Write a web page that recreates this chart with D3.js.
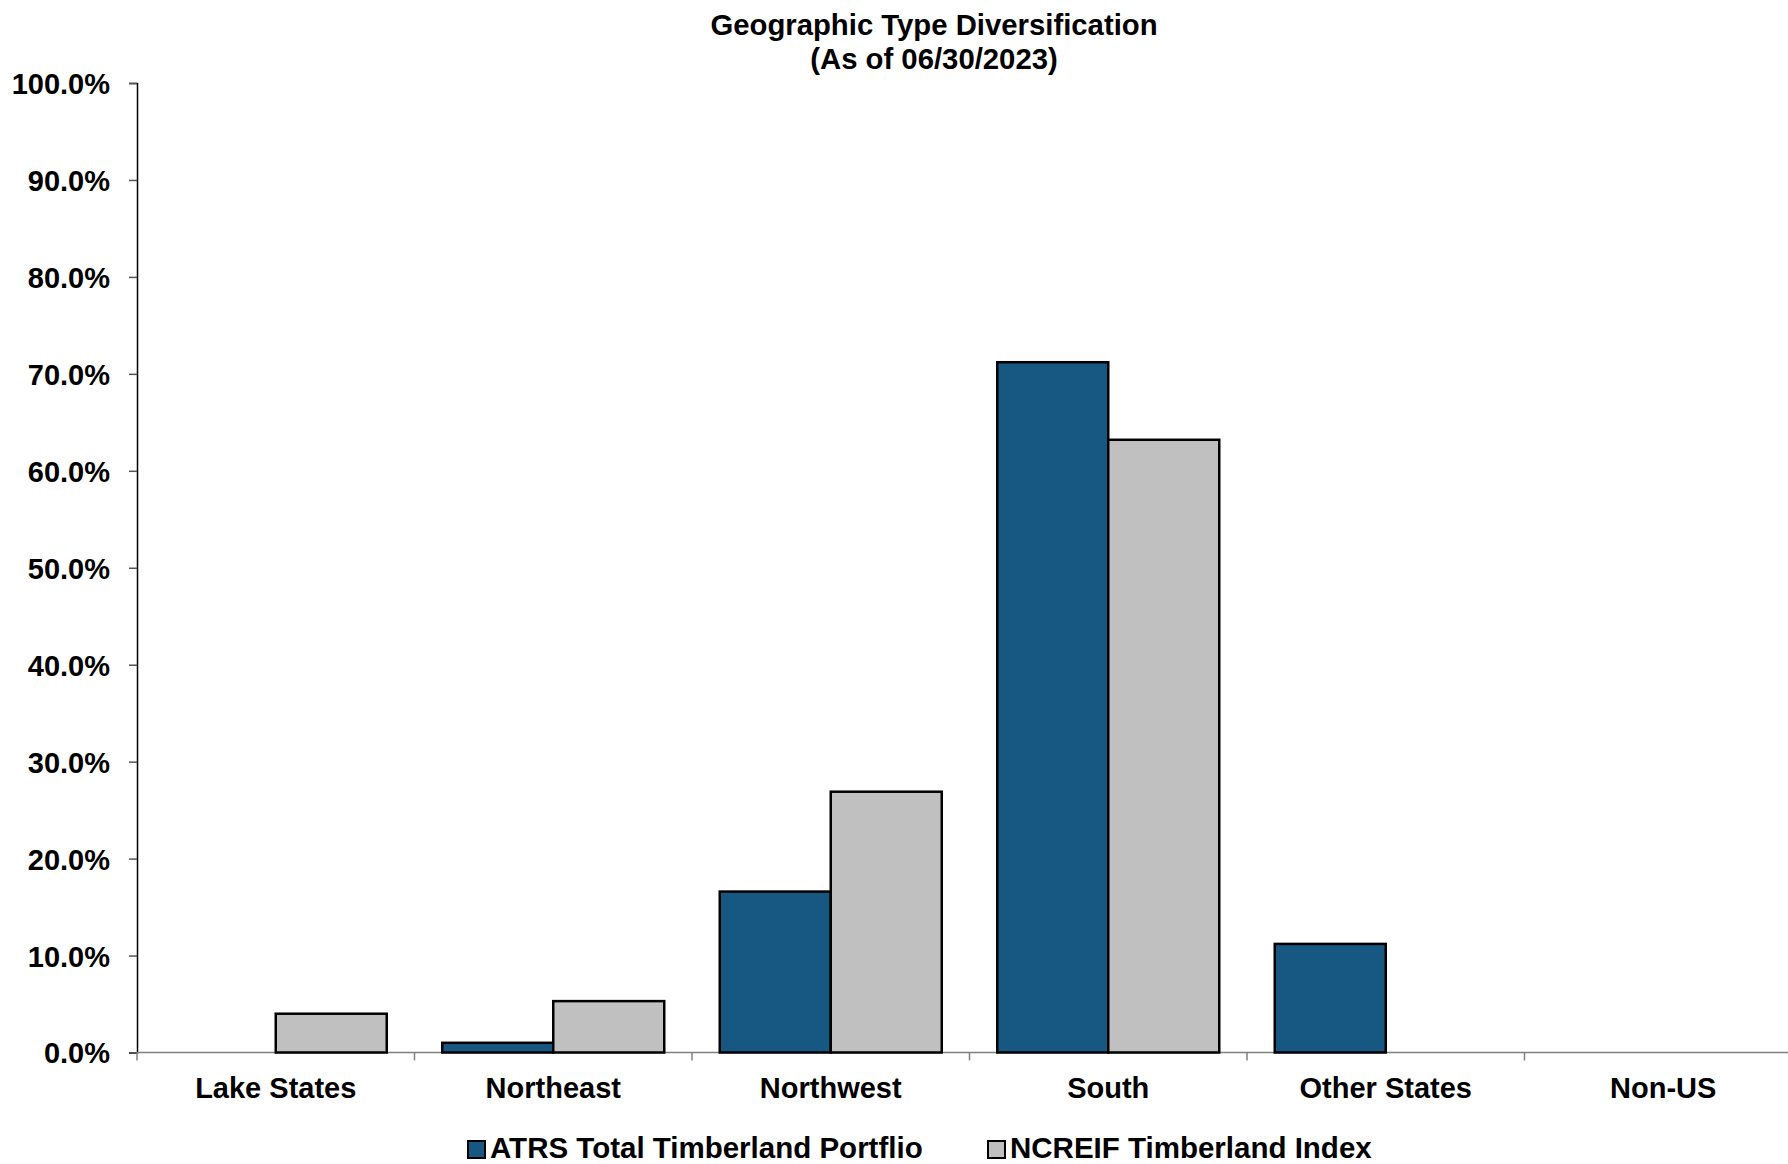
<!DOCTYPE html>
<html>
<head>
<meta charset="utf-8">
<script src="https://cdn.jsdelivr.net/npm/d3@7"></script>
<style>
  html, body { margin: 0; padding: 0; background: #fff; overflow: hidden; }
  svg { display: block; font-family: "Liberation Sans", Arial, sans-serif; font-weight: bold; }
</style>
</head>
<body>
<svg id="chart" width="1788" height="1164"></svg>
<script>
const categories = ["Lake States", "Northeast", "Northwest", "South", "Other States", "Non-US"];
const seriesNames = ["ATRS Total Timberland Portflio", "NCREIF Timberland Index"];
const atrsValues = [0.0, 0.010, 0.166, 0.712, 0.112, 0.0];
const ncreifValues = [0.040, 0.053, 0.269, 0.632, 0.0, 0.0];
const yTicks = [0, 0.1, 0.2, 0.3, 0.4, 0.5, 0.6, 0.7, 0.8, 0.9, 1.0];
const seriesColors = ["#175882", "#C0C0C0"];
const titleLines = ["Geographic Type Diversification", "(As of 06/30/2023)"];

const svg = d3.select("#chart");
const plotLeft = 137, plotRight = 1802, plotTop = 83, plotBottom = 1052.5;

const x = d3.scaleBand().domain(categories).range([plotLeft, plotRight]).paddingInner(0.2).paddingOuter(0.1);
const xs = d3.scaleBand().domain(seriesNames).range([0, x.bandwidth()]);
const y = d3.scaleLinear().domain([0, 1]).range([plotBottom, plotTop]);

const data = categories.map((c, i) => ({ cat: c, vals: [atrsValues[i], ncreifValues[i]] }));

// Title
svg.selectAll("text.title").data(titleLines).enter().append("text")
  .attr("class", "title")
  .attr("x", 934).attr("y", (d, i) => 35 + i * 34)
  .attr("text-anchor", "middle").attr("font-size", 29.3).attr("fill", "#000")
  .text(d => d);

// Y axis
const yAxis = d3.axisLeft(y).tickValues(yTicks).tickFormat(d3.format(".1%")).tickSize(8).tickPadding(19);
const gy = svg.append("g").attr("transform", `translate(${plotLeft},0)`).call(yAxis);
gy.select(".domain").attr("stroke", "#000").attr("stroke-width", 1.5);
gy.selectAll(".tick line").attr("stroke", "#555").attr("stroke-width", 1.5);
gy.selectAll(".tick text").attr("font-size", 29).attr("font-weight", "bold").attr("fill", "#000")
  .attr("font-family", '"Liberation Sans", Arial, sans-serif').attr("dy", "0.36em");

// X axis: line and ticks at band boundaries
const boundaries = categories.map((c, i) => plotLeft + i * x.step()).concat([plotLeft + categories.length * x.step()]);
svg.append("line").attr("x1", plotLeft).attr("x2", plotRight).attr("y1", plotBottom).attr("y2", plotBottom)
  .attr("stroke", "#808080").attr("stroke-width", 1.5);
svg.selectAll("line.xtick").data(boundaries).enter().append("line").attr("class", "xtick")
  .attr("x1", d => d).attr("x2", d => d).attr("y1", plotBottom).attr("y2", plotBottom + 8)
  .attr("stroke", "#808080").attr("stroke-width", 1.5);

// Category labels
svg.selectAll("text.cat").data(categories).enter().append("text").attr("class", "cat")
  .attr("x", d => x(d) + x.bandwidth() / 2).attr("y", 1098)
  .attr("text-anchor", "middle").attr("font-size", 29).attr("fill", "#000").text(d => d);

// Bars
const groups = svg.selectAll("g.grp").data(data).enter().append("g").attr("class", "grp")
  .attr("transform", d => `translate(${x(d.cat)},0)`);
groups.selectAll("rect").data(d => d.vals.map((v, j) => ({ v, s: seriesNames[j], j })).filter(e => e.v > 0))
  .enter().append("rect")
  .attr("x", d => xs(d.s)).attr("width", xs.bandwidth())
  .attr("y", d => y(d.v)).attr("height", d => y(0) - y(d.v))
  .attr("fill", d => seriesColors[d.j]).attr("stroke", "#000").attr("stroke-width", 2.5);

// Legend
const legendX = [468, 988];
const lg = svg.selectAll("g.leg").data(seriesNames).enter().append("g").attr("class", "leg")
  .attr("transform", (d, i) => `translate(${legendX[i]},1141)`);
lg.append("rect").attr("x", 0).attr("y", 0).attr("width", 17).attr("height", 17)
  .attr("fill", (d, i) => seriesColors[i]).attr("stroke", "#000").attr("stroke-width", 2);
lg.append("text").attr("x", 22).attr("y", 17).attr("font-size", 29.5).attr("fill", "#000").text(d => d);
</script>
</body>
</html>
